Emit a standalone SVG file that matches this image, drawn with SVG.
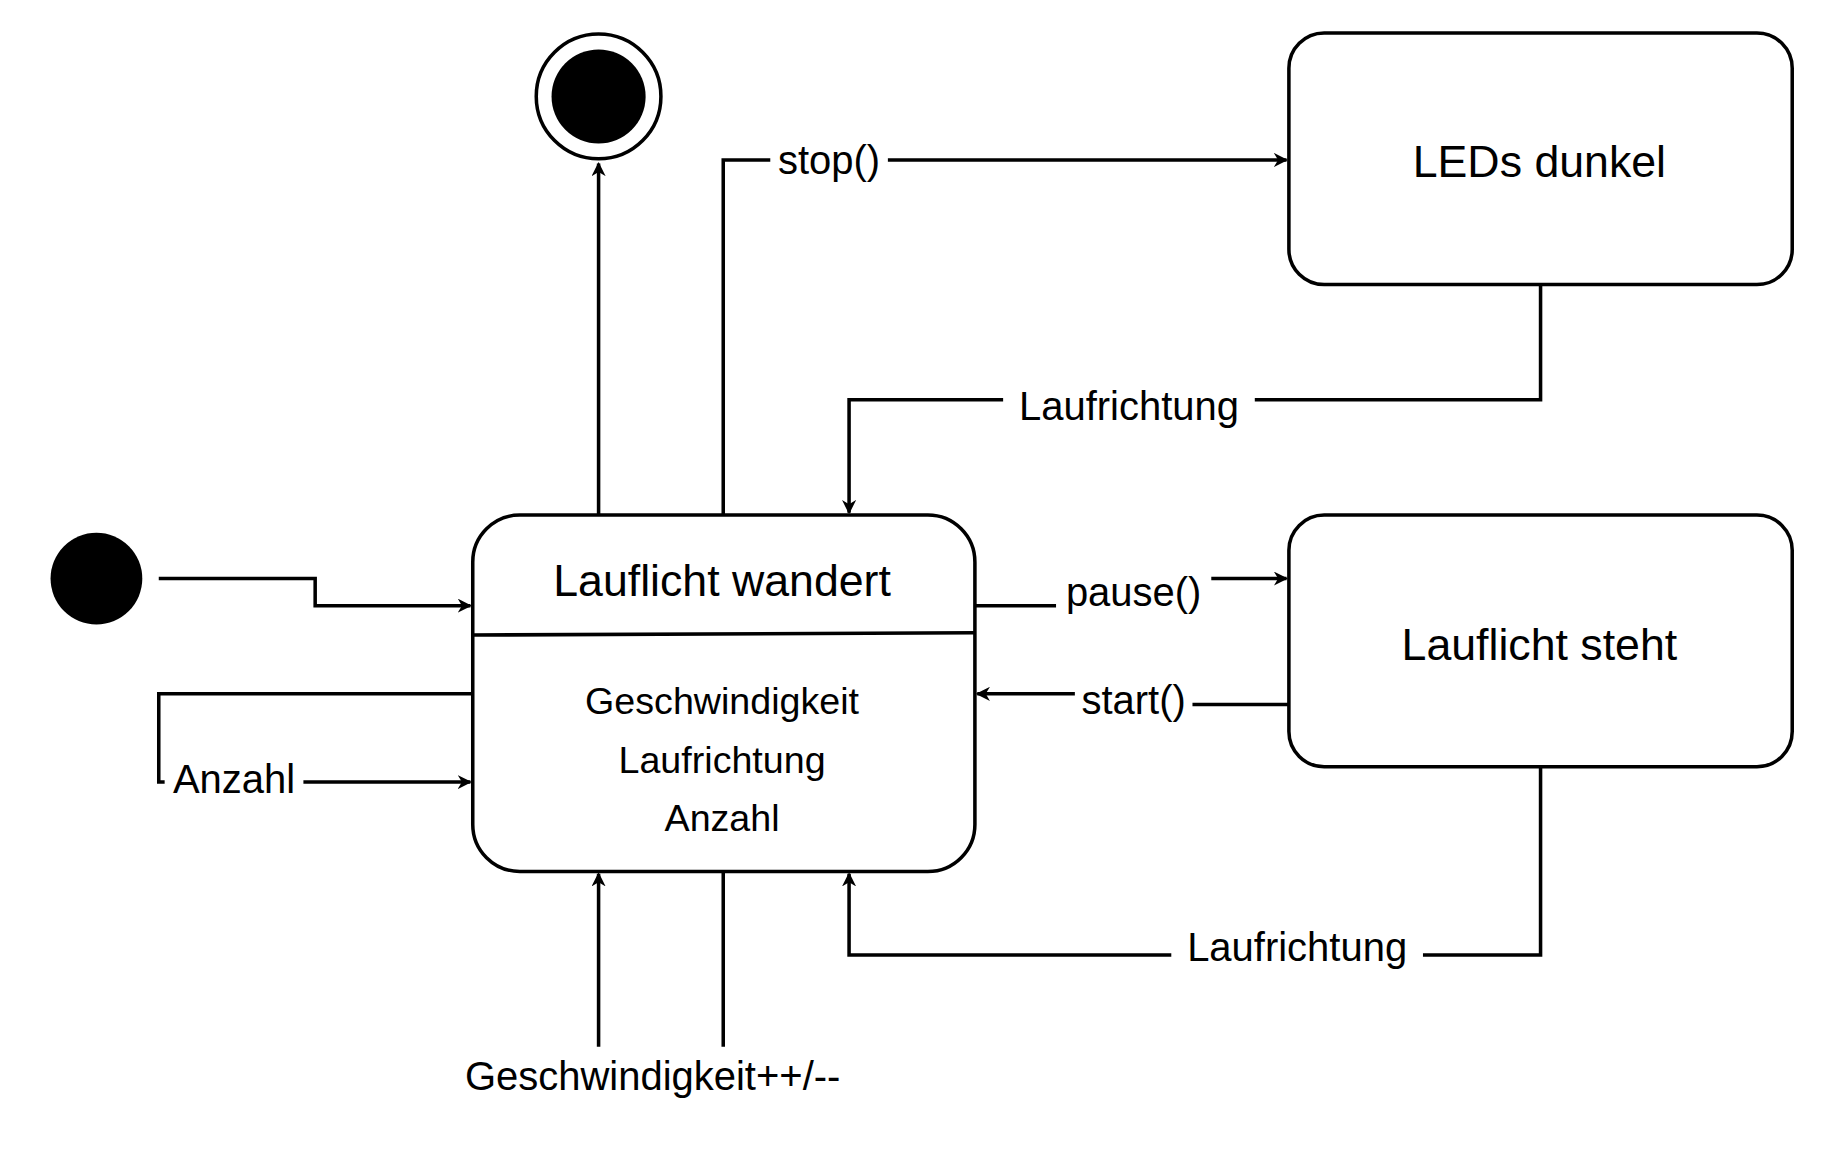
<svg xmlns="http://www.w3.org/2000/svg" width="1844" height="1156" viewBox="0 0 1844 1156">
<defs>
<marker id="ah" viewBox="0 0 20 20" refX="18" refY="10" markerWidth="12" markerHeight="12" markerUnits="userSpaceOnUse" orient="auto">
<path d="M0,0 L20,10 L0,20 L6,10 Z" fill="#000"/>
</marker>
<style>
.box{fill:#fff;stroke:#000;stroke-width:3}
.c{fill:none;stroke:#000;stroke-width:3}
.a{marker-end:url(#ah)}
text{font-family:"Liberation Sans",Arial,sans-serif;fill:#000;text-anchor:middle;dominant-baseline:central}
.t{font-size:38px}
.b{font-size:32px}
.l{font-size:34px}
.lb{fill:#fff;stroke:none}
</style>
</defs>
<rect width="1844" height="1156" fill="#fff"/>
<g transform="scale(1.176)">
<g id="connectors">
<path class="c a" d="M135,492 H268 V515 H400"/>
<path class="c a" d="M509,438 V139"/>
<path class="c a" d="M615,438 V136 H1094"/>
<path class="c a" d="M1310,242 V340 H722 V436"/>
<path class="c a" d="M829,515 H963 V492 H1094"/>
<path class="c a" d="M1096,599 H963 V590 H831"/>
<path class="c a" d="M402,590 H135 V665 H400"/>
<path class="c" d="M615,741 V890"/>
<path class="c a" d="M509,890 V743"/>
<path class="c a" d="M1310,652 V812 H722 V743"/>
<rect class="lb" x="655" y="116" width="100" height="40"/>
<text class="l" x="705" y="136">stop()</text>
<rect class="lb" x="853" y="322" width="214" height="42"/>
<text class="l" x="960" y="345">Laufrichtung</text>
<rect class="lb" x="898" y="484" width="132" height="40"/>
<text class="l" x="964" y="503">pause()</text>
<rect class="lb" x="914" y="576" width="100" height="40"/>
<text class="l" x="964" y="595">start()</text>
<rect class="lb" x="140" y="644" width="118" height="38"/>
<text class="l" x="199" y="662">Anzahl</text>
<rect class="lb" x="996" y="785" width="214" height="42"/>
<text class="l" x="1103" y="805">Laufrichtung</text>
<text class="l" x="555" y="915">Geschwindigkeit++/--</text>
</g>
<g id="initial"><circle cx="82" cy="492" r="39" fill="#000"/></g>
<g id="final"><circle cx="509" cy="82" r="53" fill="#fff" stroke="#000" stroke-width="3"/><circle cx="509" cy="82" r="40" fill="#000"/></g>
<g id="wandert">
<rect class="box" x="402" y="438" width="427" height="303" rx="40"/>
<line class="c" x1="402" y1="540" x2="829" y2="538"/>
<text class="t" x="614" y="494">Lauflicht wandert</text>
<text class="b" x="614" y="596">Geschwindigkeit</text>
<text class="b" x="614" y="646">Laufrichtung</text>
<text class="b" x="614" y="696">Anzahl</text>
</g>
<g id="dunkel"><rect class="box" x="1096" y="28" width="428" height="214" rx="30"/><text class="t" x="1309" y="137">LEDs dunkel</text></g>
<g id="steht"><rect class="box" x="1096" y="438" width="428" height="214" rx="30"/><text class="t" x="1309" y="548">Lauflicht steht</text></g>
</g>
</svg>
